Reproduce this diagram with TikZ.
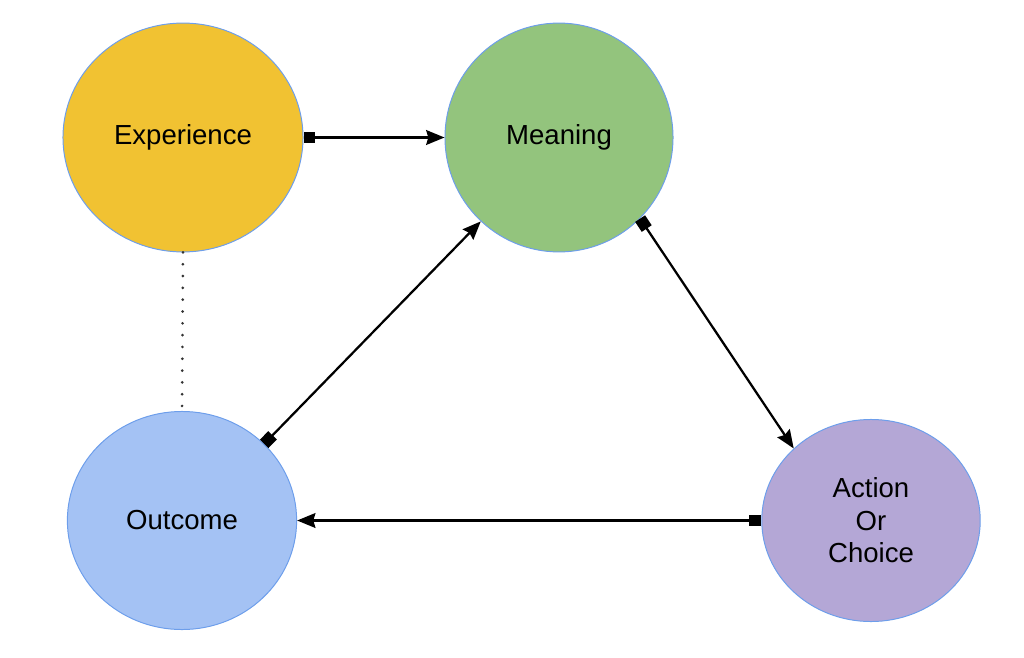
\documentclass[tikz,border=0pt]{standalone}
\usepackage{fontspec}
\setmainfont{Liberation Sans}
\usepackage[dvipsnames]{xcolor}
\usetikzlibrary{shapes.geometric}
\usetikzlibrary{arrows.meta}
\definecolor{expYellow}{HTML}{F1C232}
\definecolor{meanGreen}{HTML}{93C47D}
\definecolor{outBlue}{HTML}{A4C2F4}
\definecolor{actPurple}{HTML}{B4A7D6}
\definecolor{rimBlue}{HTML}{6D9EEB}

\begin{document}
\begin{tikzpicture}[
			x=0.025cm, y=-0.025cm,
			stage/.style={
				ellipse, draw=rimBlue, line width=0.7pt, inner sep=0pt,
				align=center, font=\fontsize{19.6}{23.2}\selectfont
			},
			link/.style={
				{Square[length=8.5pt,width=8.5pt]}-{Stealth[length=13pt,width=10.5pt,inset=1.5pt]},
				line width=1.6pt, black
			},
			dotlink/.style={line width=2.1pt, line cap=round, dash pattern=on 0pt off 8.4pt, black!80}
			]
			
			\useasboundingbox (0,0) rectangle (1024,657);
			
			\node[stage, fill=expYellow, minimum width=6.0cm, minimum height=5.72cm]
			(experience) at (183, 137.5) {Experience};
			
			\node[stage, fill=meanGreen, minimum width=5.7cm, minimum height=5.72cm]
			(meaning) at (559, 137.5) {Meaning};
			
			\node[stage, fill=outBlue, minimum width=5.73cm, minimum height=5.45cm]
			(outcome) at (182, 520.5) {Outcome};
			
			\node[stage, fill=actPurple, minimum width=5.46cm, minimum height=5.05cm]
			(action) at (871, 520.5) {Action\\Or\\Choice};
			
			\draw[link] (experience.east) -- (meaning.west);
			\draw[link] (meaning.-45.5) -- (action.137);
			\draw[link] (action.west) -- (outcome.east);
			\draw[link] (outcome.43.6) -- (meaning.-133.8);
			\draw[dotlink] (experience.south) -- (outcome.north);
			
		\end{tikzpicture}
\end{document}
